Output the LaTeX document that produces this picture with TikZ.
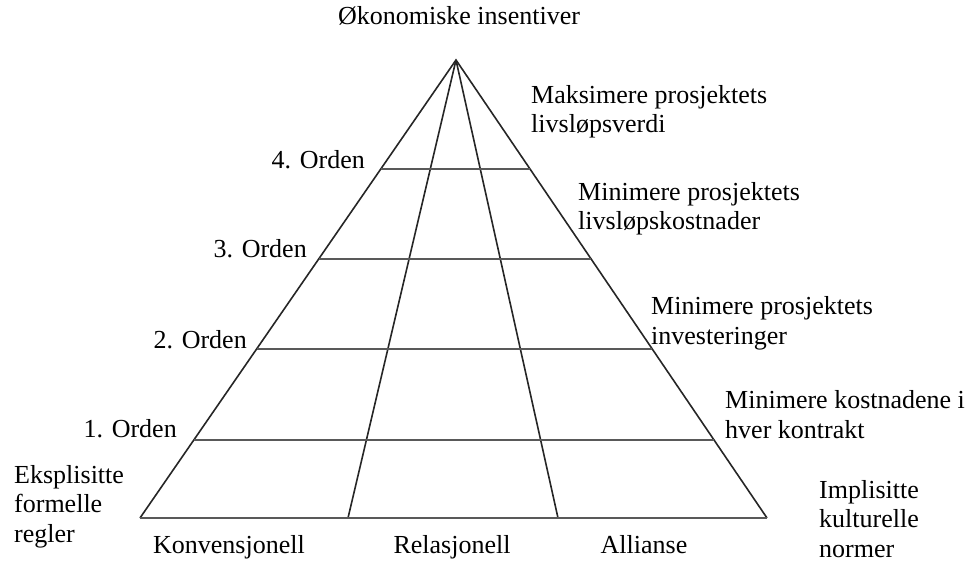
\documentclass[tikz,border=0pt]{standalone}
\usepackage{fontspec}
\setmainfont{Liberation Serif}
\usetikzlibrary{calc}
\tikzset{
  txt/.style={font=\fontsize{26}{29.5}\selectfont, inner sep=0pt, align=left},
  side/.style={line width=1.6pt, black!85},
  rung/.style={line width=1.8pt, black!65},
}
\begin{document}
\begin{tikzpicture}[x=1pt,y=-1pt]
\useasboundingbox (0,0) rectangle (974,561);
% pyramid corners
\coordinate (top) at (456,60);
\coordinate (bl) at (140,518);
\coordinate (ml) at (348,518);
\coordinate (mr) at (558,518);
\coordinate (br) at (767,518);
\foreach \t/\n in {0.238/4,0.434/3,0.631/2,0.830/1}{
  \coordinate (l\n) at ($(top)!\t!(bl)$);
  \coordinate (r\n) at ($(top)!\t!(br)$);
}

\draw[side] (bl) -- (top) -- (br);
\draw[side] (top) -- (ml);
\draw[side] (top) -- (mr);
\draw[rung] (bl) -- (br);
\foreach \n in {1,...,4}
  \draw[rung] (l\n) -- (r\n);

% labels (base = last line)
\node[txt, anchor=base] (oek) at (459,25) {Økonomiske insentiver};
\node[txt, anchor=base west] (m4) at (531,133) {Maksimere prosjektets\\livsløpsverdi};
\node[txt, anchor=base west] (m3) at (578,230) {Minimere prosjektets\\livsløpskostnader};
\node[txt, anchor=base west] (m2) at (651,344) {Minimere prosjektets\\investeringer};
\node[txt, anchor=base west] (m1) at (725,438) {Minimere kostnadene i\\hver kontrakt};
\node[txt, anchor=base west] (eks) at (14,542) {Eksplisitte\\formelle\\regler};
\node[txt, anchor=base west] (imp) at (819,557) {Implisitte\\kulturelle\\normer};

\node[txt, anchor=base east] (o4) at (365,169) {4. Orden};
\node[txt, anchor=base east] (o3) at (307,258) {3. Orden};
\node[txt, anchor=base east] (o2) at (247,348) {2. Orden};
\node[txt, anchor=base east] (o1) at (177,437) {1. Orden};

\node[txt, anchor=base] (konv) at (229,553) {Konvensjonell};
\node[txt, anchor=base] (rel) at (452,553) {Relasjonell};
\node[txt, anchor=base] (all) at (644,553) {Allianse};
\end{tikzpicture}
\end{document}
